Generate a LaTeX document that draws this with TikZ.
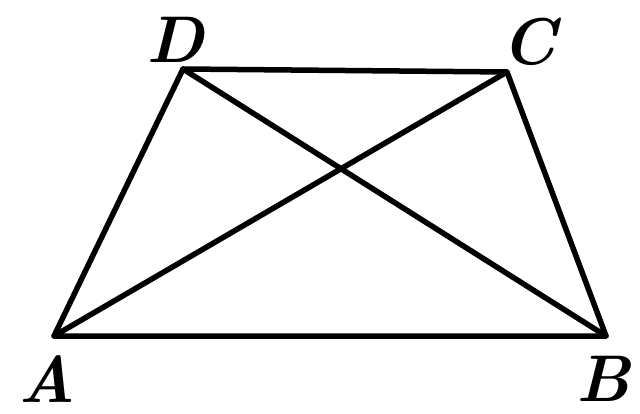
\documentclass[tikz,border=0pt]{standalone}
\begin{document}
\begin{tikzpicture}[x=1pt,y=-1pt,
  edge/.style={line width=5.5pt,line cap=round,line join=round},
  lbl/.style={inner sep=0pt,font=\fontsize{66}{72}\selectfont\bfseries\itshape}]
\useasboundingbox (0,0) rectangle (640,414);
\coordinate (A) at (54,336);
\coordinate (B) at (606,336);
\coordinate (C) at (507,72);
\coordinate (D) at (183,69);
\draw[edge] (A) -- (B) -- (C) -- (D) -- cycle;
\draw[edge] (A) -- (C);
\draw[edge] (D) -- (B);
\node[lbl] (lA) at (47,379) {A};
\node[lbl] (lB) at (603,379) {B};
\node[lbl] (lC) at (529,42) {C};
\node[lbl] (lD) at (175,40) {D};
\end{tikzpicture}
\end{document}
